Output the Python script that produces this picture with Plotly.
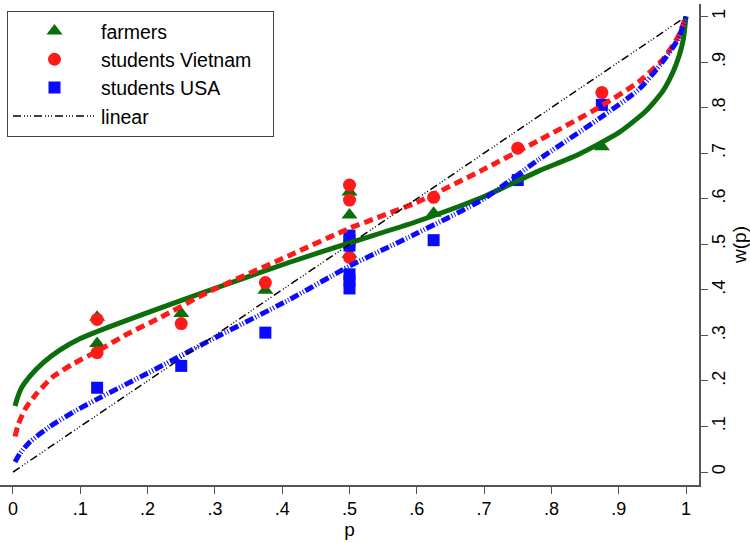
import plotly.graph_objects as go

# ---- data ----
tick_vals = [0, 0.1, 0.2, 0.3, 0.4, 0.5, 0.6, 0.7, 0.8, 0.9, 1.0]
tick_text = ["0", ".1", ".2", ".3", ".4", ".5", ".6", ".7", ".8", ".9", "1"]

# observed points
farmers_p = [0.125, 0.125, 0.25, 0.375, 0.5, 0.5, 0.5, 0.625, 0.875]
farmers_w = [0.340, 0.282, 0.348, 0.399, 0.615, 0.564, 0.478, 0.568, 0.714]

vietnam_p = [0.125, 0.125, 0.25, 0.375, 0.5, 0.5, 0.5, 0.625, 0.75, 0.875]
vietnam_w = [0.335, 0.262, 0.326, 0.416, 0.630, 0.597, 0.471, 0.603, 0.711, 0.833]

usa_p = [0.125, 0.25, 0.375, 0.5, 0.5, 0.5, 0.5, 0.5, 0.5, 0.625, 0.75, 0.875]
usa_w = [0.185, 0.233, 0.306, 0.519, 0.508, 0.497, 0.434, 0.420, 0.403, 0.509, 0.641, 0.806]

# fitted curves
farm_curve_p = [0.003, 0.006, 0.012, 0.025, 0.045, 0.07, 0.1, 0.14, 0.2, 0.29, 0.41, 0.5, 0.6, 0.7, 0.78, 0.84, 0.9, 0.94, 0.965, 0.98, 0.99, 0.996, 1.0]
farm_curve_w = [0.145, 0.160, 0.183, 0.210, 0.240, 0.268, 0.293, 0.317, 0.350, 0.398, 0.460, 0.503, 0.550, 0.605, 0.660, 0.697, 0.745, 0.792, 0.835, 0.876, 0.915, 0.950, 1.0]

viet_curve_p = [0.003, 0.008, 0.018, 0.035, 0.06, 0.09, 0.125, 0.17, 0.22, 0.29, 0.41, 0.5, 0.6, 0.7, 0.78, 0.87, 0.93, 0.965, 0.988, 1.0]
viet_curve_w = [0.078, 0.105, 0.138, 0.172, 0.210, 0.238, 0.265, 0.303, 0.340, 0.395, 0.475, 0.535, 0.592, 0.665, 0.727, 0.800, 0.857, 0.905, 0.955, 1.0]

usa_curve_p = [0.003, 0.01, 0.025, 0.055, 0.09, 0.125, 0.2, 0.29, 0.41, 0.5, 0.6, 0.7, 0.78, 0.87, 0.93, 0.965, 0.988, 1.0]
usa_curve_w = [0.022, 0.040, 0.066, 0.100, 0.132, 0.160, 0.217, 0.287, 0.378, 0.452, 0.524, 0.600, 0.685, 0.775, 0.840, 0.900, 0.950, 1.0]

linear_p = [0.0, 1.0]
linear_w = [0.0, 1.0]

GREEN = "#0b6e0b"
RED = "#ff1a1a"
BLUE = "#0a0aff"
FONT = "Liberation Sans, Arial, sans-serif"
PAD = "\u00a0\u00a0\u00a0"

fig = go.Figure()

fig.add_trace(go.Scatter(x=farmers_p, y=farmers_w, mode="markers", name="farmers",
                         marker=dict(symbol="triangle-up", size=14, color=GREEN)))
fig.add_trace(go.Scatter(x=vietnam_p, y=vietnam_w, mode="markers", name="students Vietnam" + PAD,
                         marker=dict(symbol="circle", size=13, color=RED)))
fig.add_trace(go.Scatter(x=usa_p, y=usa_w, mode="markers", name="students USA",
                         marker=dict(symbol="square", size=12, color=BLUE)))

fig.add_trace(go.Scatter(x=farm_curve_p, y=farm_curve_w, mode="lines", showlegend=False,
                         line=dict(color=GREEN, width=5, shape="spline", smoothing=0.6)))
fig.add_trace(go.Scatter(x=viet_curve_p, y=viet_curve_w, mode="lines", showlegend=False,
                         line=dict(color=RED, width=5, dash="9px,5px", shape="spline", smoothing=0.6)))
fig.add_trace(go.Scatter(x=usa_curve_p, y=usa_curve_w, mode="lines", showlegend=False,
                         line=dict(color=BLUE, width=5, dash="9px,2px,1px,2px,1px,2px", shape="spline", smoothing=0.6)))
fig.add_trace(go.Scatter(x=linear_p, y=linear_w, mode="lines", name="linear",
                         line=dict(color="black", width=1.5, dash="8px,3px,1px,2px,1px,2px,1px,3px")))

fig.update_layout(
    width=750, height=543,
    paper_bgcolor="white", plot_bgcolor="white",
    margin=dict(l=0, r=51, t=4, b=58),
    font=dict(family=FONT, size=18, color="black"),
    showlegend=True,
    legend=dict(x=0.01, y=0.986, xanchor="left", yanchor="top",
                bgcolor="white", bordercolor="#444", borderwidth=1,
                font=dict(size=19.5), itemwidth=83, tracegroupgap=0),
    xaxis=dict(range=[-0.0193, 1.0193], tickvals=tick_vals, ticktext=tick_text,
               showline=True, linecolor="#555", linewidth=1.5, ticks="outside",
               ticklen=7, tickcolor="#555", showgrid=False, zeroline=False,
               title=dict(text="p", font=dict(size=19), standoff=2),
               tickfont=dict(size=18)),
    yaxis=dict(range=[-0.0285, 1.0275], tickvals=tick_vals, ticktext=tick_text,
               side="right", showline=True, linecolor="#555", linewidth=1.5,
               ticks="outside", ticklen=7, tickcolor="#555", showgrid=False,
               zeroline=False, tickangle=-90, ticklabelstandoff=-4,
               title=dict(text="w(p)", font=dict(size=19), standoff=0),
               tickfont=dict(size=18)),
)

fig.write_html("out.html", post_script="document.body.style.margin='0px';",
               config={"displayModeBar": False})
